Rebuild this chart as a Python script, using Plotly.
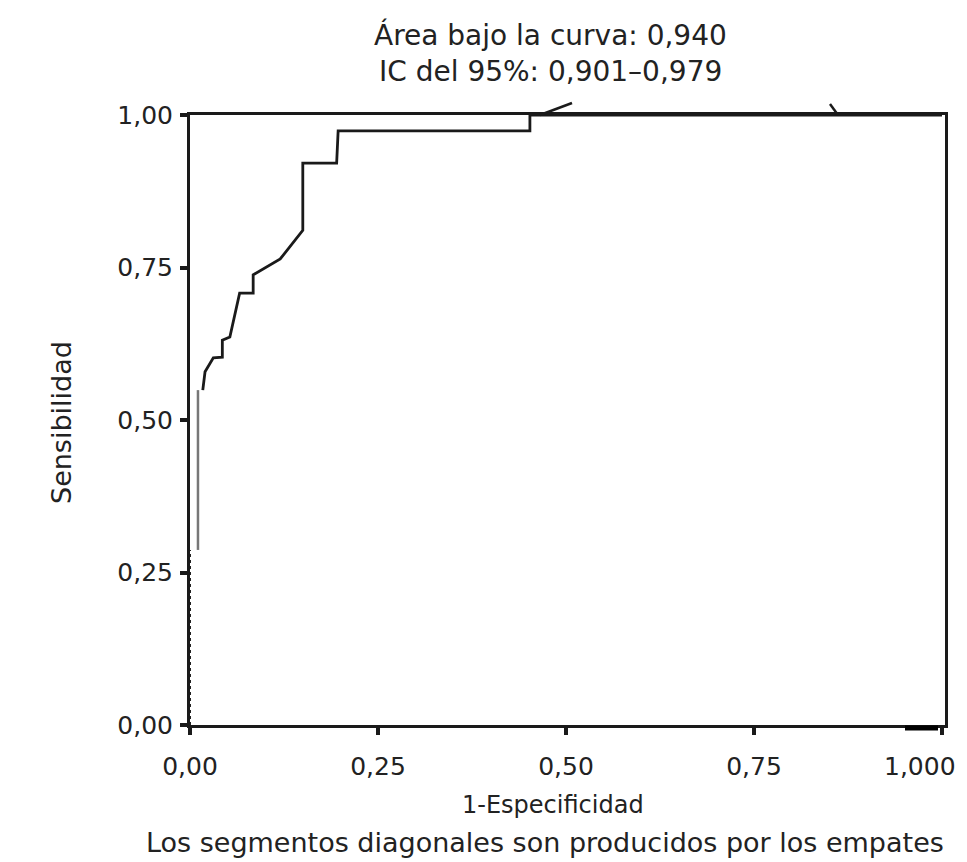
import plotly.graph_objects as go

# ROC curve points (1-Especificidad, Sensibilidad)
roc_x = [0.017, 0.020, 0.031, 0.043, 0.043, 0.053, 0.066, 0.084, 0.084, 0.120,
         0.150, 0.150, 0.195, 0.197, 0.452, 0.452, 1.0]
roc_y = [0.549, 0.579, 0.602, 0.603, 0.631, 0.636, 0.708, 0.708, 0.738, 0.764,
         0.811, 0.921, 0.921, 0.974, 0.974, 1.0, 1.0]
dotted_x = [0.0, 0.0]
dotted_y = [0.0, 0.287]
gray_x = [0.0106, 0.0106]
gray_y = [0.287, 0.549]

tick_vals = [0, 0.25, 0.5, 0.75, 1.0]
x_tick_text = ["0,00", "0,25", "0,50", "0,75", "1,000"]
y_tick_text = ["0,00", "0,25", "0,50", "0,75", "1,00"]

title_lines = ["Área bajo la curva: 0,940", "IC del 95%: 0,901–0,979"]
x_title = "1-Especificidad"
y_title = "Sensibilidad"
footnote = "Los segmentos diagonales son producidos por los empates"

FONT = "DejaVu Sans, Verdana, sans-serif"
INK = "#222222"
TICK_SIZE = 25

fig = go.Figure()
fig.add_trace(go.Scatter(x=dotted_x, y=dotted_y, mode="lines",
                         line=dict(color="#222222", width=2, dash="dot"),
                         showlegend=False, hoverinfo="skip"))
fig.add_trace(go.Scatter(x=gray_x, y=gray_y, mode="lines",
                         line=dict(color="#777777", width=2.5),
                         showlegend=False, hoverinfo="skip"))
fig.add_trace(go.Scatter(x=roc_x, y=roc_y, mode="lines",
                         line=dict(color="#1a1a1a", width=2.8),
                         showlegend=False, hoverinfo="skip"))

axis_common = dict(showgrid=False, zeroline=False, showline=True, mirror=True,
                   linecolor="#1a1a1a", linewidth=3, ticks="outside",
                   ticklen=7, tickwidth=4, tickcolor="#1a1a1a",
                   tickfont=dict(family=FONT, size=TICK_SIZE, color=INK),
                   tickvals=tick_vals)

# last x label would spill past the page edge, so it is drawn as an annotation
fig.update_xaxes(range=[0, 1.004], ticktext=x_tick_text[:-1] + [""],
                 ticklabelstandoff=10, **axis_common)
fig.update_yaxes(range=[0, 1.0], ticktext=y_tick_text, ticklabelstandoff=2, **axis_common)

# text positions given in page pixels of the reference; converted to paper coords
texts = [
    (title_lines[0], 550, 35, 28),
    (title_lines[1], 550, 72, 28),
    (x_title, 553, 805, 24),
    (footnote, 545, 842, 27),
]
ann = []
for t, px, py, sz in texts:
    ann.append(dict(text=t, xref="paper", yref="paper",
                    x=(px - 190) / 755, y=(725 - py) / 610,
                    xanchor="center", yanchor="middle", showarrow=False,
                    font=dict(family=FONT, size=sz, color=INK)))
ann.append(dict(text=y_title, xref="paper", yref="paper",
                x=(62 - 190) / 755, y=(725 - 423) / 610, textangle=-90,
                xanchor="center", yanchor="middle", showarrow=False,
                font=dict(family=FONT, size=27, color=INK)))
ann.append(dict(text=x_tick_text[-1], xref="x", yref="paper",
                x=tick_vals[-1], y=0, xanchor="right", yanchor="top",
                xshift=16, yshift=-25, showarrow=False,
                font=dict(family=FONT, size=TICK_SIZE, color=INK)))

shapes = [
    dict(type="line", xref="paper", yref="paper", x0=(540 - 190) / 755, y0=1.0,
         x1=(572 - 190) / 755, y1=(725 - 103) / 610, line=dict(color="#1a1a1a", width=2.5)),
    dict(type="line", xref="paper", yref="paper", x0=(830 - 190) / 755, y0=(725 - 104) / 610,
         x1=(838 - 190) / 755, y1=1.0, line=dict(color="#1a1a1a", width=2.5)),
    dict(type="line", xref="paper", yref="paper", x0=(905 - 190) / 755, y0=-0.005,
         x1=(938 - 190) / 755, y1=-0.005, line=dict(color="#000000", width=5)),
]

# page body has an 8px margin, so the figure is drawn 8px smaller on each axis
fig.update_layout(width=959, height=854,
                  margin=dict(l=182, r=22, t=107, b=137),
                  paper_bgcolor="white", plot_bgcolor="white",
                  annotations=ann, shapes=shapes, showlegend=False)

fig.write_html("out.html")
